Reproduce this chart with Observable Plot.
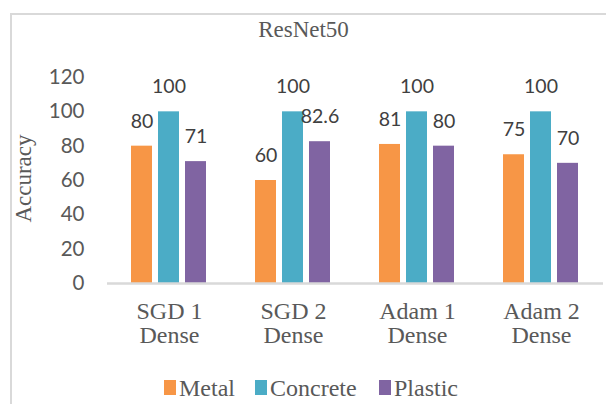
<!DOCTYPE html>
<html>
<head>
<meta charset="utf-8">
<script src="https://cdn.jsdelivr.net/npm/d3@7"></script>
<script src="https://cdn.jsdelivr.net/npm/@observablehq/plot@0.6"></script>
<style>
  html, body { margin: 0; padding: 0; background: #fff; }
  #root { position: relative; width: 606px; height: 404px; overflow: hidden; background: #fff; }
  #frame { position: absolute; left: 10px; top: 13px; width: 700px; height: 500px; border: 2px solid #d9d9d9; box-sizing: border-box; }
  #chart { position: absolute; left: 0; top: 0; }
  .serif { font-family: "Liberation Serif", "Times New Roman", serif; color: #595959; }
  #title { position: absolute; left: 0; width: 607px; top: 18px; font-size: 23px; line-height: 23px; text-align: center; }
  #ylabel { position: absolute; width: 200px; height: 23px; left: -77.4px; top: 166.5px; font-size: 23px; line-height: 23px; text-align: center; transform: rotate(-90deg); }
  .leg { position: absolute; top: 376px; font-size: 24px; line-height: 24px; white-space: nowrap; font-family: "Liberation Serif", "Times New Roman", serif; color: #595959; }
  .sw { position: absolute; width: 12px; height: 15px; top: 380px; }
</style>
</head>
<body>
<div id="root">
  <div id="frame"></div>
  <div id="chart"></div>
  <div id="title" class="serif">ResNet50</div>
  <div id="ylabel" class="serif">Accuracy</div>
  <div id="legend"></div>
</div>
<script>
const groups = ["SGD 1\nDense", "SGD 2\nDense", "Adam 1\nDense", "Adam 2\nDense"];
const series = ["Metal", "Concrete", "Plastic"];
const metal = [80, 60, 81, 75];
const concrete = [100, 100, 100, 100];
const plastic = [71, 82.6, 80, 70];
const yTicks = [0, 20, 40, 60, 80, 100, 120];
const colors = ["#F79646", "#4BACC6", "#8064A2"];

const valuesBySeries = {Metal: metal, Concrete: concrete, Plastic: plastic};
const data = groups.flatMap((g, i) => series.map(s => ({group: g, series: s, value: valuesBySeries[s][i]})));

const chart = Plot.plot({
  width: 606,
  height: 404,
  marginLeft: 106,
  marginRight: 2,
  marginTop: 77,
  marginBottom: 121,
  style: {color: "#595959", background: "transparent", overflow: "visible"},
  fx: {domain: groups, padding: 0, label: null},
  x: {domain: series, paddingInner: 0.218, paddingOuter: 0.87, axis: null},
  y: {domain: [0, 120], axis: null},
  color: {domain: series, range: colors},
  marks: [
    Plot.barY(data, {fx: "group", x: "series", y: "value", fill: "series"}),
    Plot.ruleY([0], {stroke: "#d9d9d9", strokeWidth: 2.5}),
    Plot.text(data, {fx: "group", x: "series", y: "value", text: d => String(d.value),
      lineAnchor: "bottom", dy: -18.5, fontSize: 19.5, fontFamily: "Lato", fill: "#404040"}),
    Plot.axisY({ticks: yTicks, tickSize: 0, tickPadding: 23, fontSize: 20.5, fontFamily: "Lato", label: null}),
    Plot.axisFx({anchor: "bottom", tickSize: 0, tickPadding: 18, fontSize: 24,
      fontFamily: "Liberation Serif", lineHeight: 1.0, label: null})
  ]
});
document.getElementById("chart").appendChild(chart);

const legend = document.getElementById("legend");
const legPos = [164, 255, 379];
series.forEach((s, i) => {
  const sw = document.createElement("div");
  sw.className = "sw";
  sw.style.left = legPos[i] + "px";
  sw.style.background = colors[i];
  legend.appendChild(sw);
  const t = document.createElement("div");
  t.className = "leg";
  t.style.left = (legPos[i] + 15) + "px";
  t.textContent = s;
  legend.appendChild(t);
});
</script>
</body>
</html>
